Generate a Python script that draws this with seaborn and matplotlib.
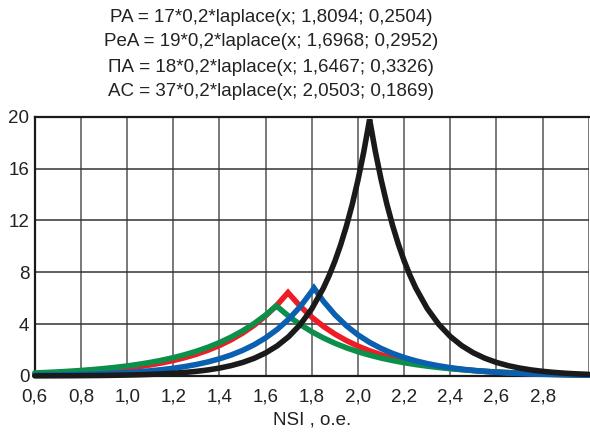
import numpy as np
import pandas as pd
import seaborn as sns
import matplotlib.pyplot as plt

# shared x grid (NSI, o.e.)
x_grid = [0.60, 0.65, 0.70, 0.75, 0.80, 0.85, 0.90, 0.95, 1.00, 1.05, 1.10, 1.15,
          1.20, 1.25, 1.30, 1.35, 1.40, 1.45, 1.50, 1.55, 1.60, 1.65, 1.70, 1.75,
          1.80, 1.85, 1.90, 1.95, 2.00, 2.05, 2.10, 2.15, 2.20, 2.25, 2.30, 2.35,
          2.40, 2.45, 2.50, 2.55, 2.60, 2.65, 2.70, 2.75, 2.80, 2.85, 2.90, 2.95, 3.00]

# values read on the grid, for each curve
pa = [0.054, 0.066, 0.081, 0.099, 0.121, 0.147, 0.180, 0.219, 0.268, 0.327, 0.399, 0.488,
      0.596, 0.727, 0.888, 1.084, 1.324, 1.616, 1.973, 2.409, 2.942, 3.592, 4.386, 5.355,
      6.539, 5.773, 4.728, 3.872, 3.171, 2.597, 2.127, 1.742, 1.427, 1.168, 0.957, 0.784,
      0.642, 0.526, 0.431, 0.353, 0.289, 0.237, 0.194, 0.159, 0.130, 0.106, 0.087, 0.071, 0.058]
pea = [0.157, 0.186, 0.220, 0.260, 0.308, 0.365, 0.433, 0.513, 0.607, 0.720, 0.852, 1.010,
       1.196, 1.417, 1.678, 1.988, 2.355, 2.790, 3.305, 3.915, 4.637, 5.493, 6.367, 5.375,
       4.537, 3.830, 3.234, 2.730, 2.304, 1.945, 1.642, 1.386, 1.170, 0.988, 0.834, 0.704,
       0.594, 0.502, 0.424, 0.358, 0.302, 0.255, 0.215, 0.182, 0.153, 0.129, 0.109, 0.092, 0.078]
pia = [0.233, 0.270, 0.314, 0.365, 0.424, 0.493, 0.573, 0.666, 0.774, 0.900, 1.046, 1.216,
       1.413, 1.642, 1.908, 2.218, 2.578, 2.996, 3.482, 4.047, 4.703, 5.358, 4.610, 3.967,
       3.413, 2.937, 2.527, 2.174, 1.871, 1.610, 1.385, 1.192, 1.025, 0.882, 0.759, 0.653,
       0.562, 0.484, 0.416, 0.358, 0.308, 0.265, 0.228, 0.196, 0.169, 0.145, 0.125, 0.108, 0.093]
ac = [0.008, 0.011, 0.014, 0.019, 0.025, 0.032, 0.042, 0.055, 0.072, 0.094, 0.123, 0.160,
      0.209, 0.273, 0.357, 0.467, 0.610, 0.797, 1.042, 1.361, 1.779, 2.325, 3.038, 3.970,
      5.187, 6.778, 8.858, 11.575, 15.125, 19.765, 15.174, 11.612, 8.886, 6.800, 5.204, 3.982,
      3.048, 2.332, 1.785, 1.366, 1.045, 0.800, 0.612, 0.468, 0.358, 0.274, 0.210, 0.161, 0.123]

# extra points around the sharp AC peak
ac_fine_x = [1.875, 1.925, 1.975, 2.025, 2.075, 2.125, 2.175, 2.225]
ac_fine_y = [7.749, 10.126, 13.232, 17.290, 17.346, 13.275, 10.159, 7.774]

# peak (cusp) of each curve, drawing order
series = ['PeA', 'ПА', 'PA', 'AC']
peak_x = {'PA': 1.8094, 'PeA': 1.6968, 'ПА': 1.6467, 'AC': 2.0503}
peak_y = {'PA': 6.789, 'PeA': 6.436, 'ПА': 5.412, 'AC': 19.797}
values = {'PA': pa, 'PeA': pea, 'ПА': pia, 'AC': ac}
colors = {'PA': '#0a5fb0', 'PeA': '#ee1c25', 'ПА': '#0c8f4a', 'AC': '#1a1a1a'}

titles = ['PA = 17*0,2*laplace(x; 1,8094; 0,2504)',
          'PeA = 19*0,2*laplace(x; 1,6968; 0,2952)',
          'ПА = 18*0,2*laplace(x; 1,6467; 0,3326)',
          'AC = 37*0,2*laplace(x; 2,0503; 0,1869)']

rows = []
for s in series:
    for x, y in zip(x_grid, values[s]):
        rows.append((s, x, y))
    rows.append((s, peak_x[s], peak_y[s]))
for x, y in zip(ac_fine_x, ac_fine_y):
    rows.append(('AC', x, y))
df = pd.DataFrame(rows, columns=['curve', 'x', 'y']).sort_values(['curve', 'x'])

sns.set_style('white')
plt.rcParams['font.family'] = ['Liberation Sans', 'DejaVu Sans']

fig = plt.figure(figsize=(5.9, 4.4), dpi=100)
ax = fig.add_axes([0.059, 0.1455, 0.939, 0.589])

for s in series:
    sns.lineplot(data=df[df['curve'] == s], x='x', y='y', ax=ax, color=colors[s],
                 linewidth=4.0, sort=False, estimator=None, legend=False,
                 solid_joinstyle='miter', clip_on=False, zorder=3)

ax.set_xlim(0.6, 3.0)
ax.set_ylim(0, 20)
xt = np.arange(0.6, 2.81, 0.2)
ax.set_xticks(xt)
ax.set_xticklabels([f'{v:.1f}'.replace('.', ',') for v in xt], fontsize=13.5)
ax.set_yticks([0, 4, 8, 12, 16, 20])
ax.set_yticklabels(['0', '4', '8', '12', '16', '20'], fontsize=13.5)
ax.tick_params(axis='y', length=0, pad=4, colors='#222222')
ax.tick_params(axis='x', length=0, pad=9, colors='#222222')
for v in list(xt[1:]) + [3.0]:
    ax.axvline(v, color='#555555', lw=1.1, zorder=0)
for v in [4, 8, 12, 16]:
    ax.axhline(v, color='#333333', lw=1.1, zorder=0)
for side in ['left', 'bottom', 'top']:
    ax.spines[side].set_color('#1a1a1a')
    ax.spines[side].set_linewidth(1.6)
ax.spines['right'].set_visible(False)
ax.set_xlabel('NSI , o.e.', fontsize=13.5, color='#222222', labelpad=4)
ax.set_ylabel('')

for i, t in enumerate(titles):
    fig.text(0.459, 1 - (17 + 25 * i) / 440, t, ha='center', va='center',
             fontsize=13.5, color='#222222')

fig.savefig('out.png', dpi=100)
